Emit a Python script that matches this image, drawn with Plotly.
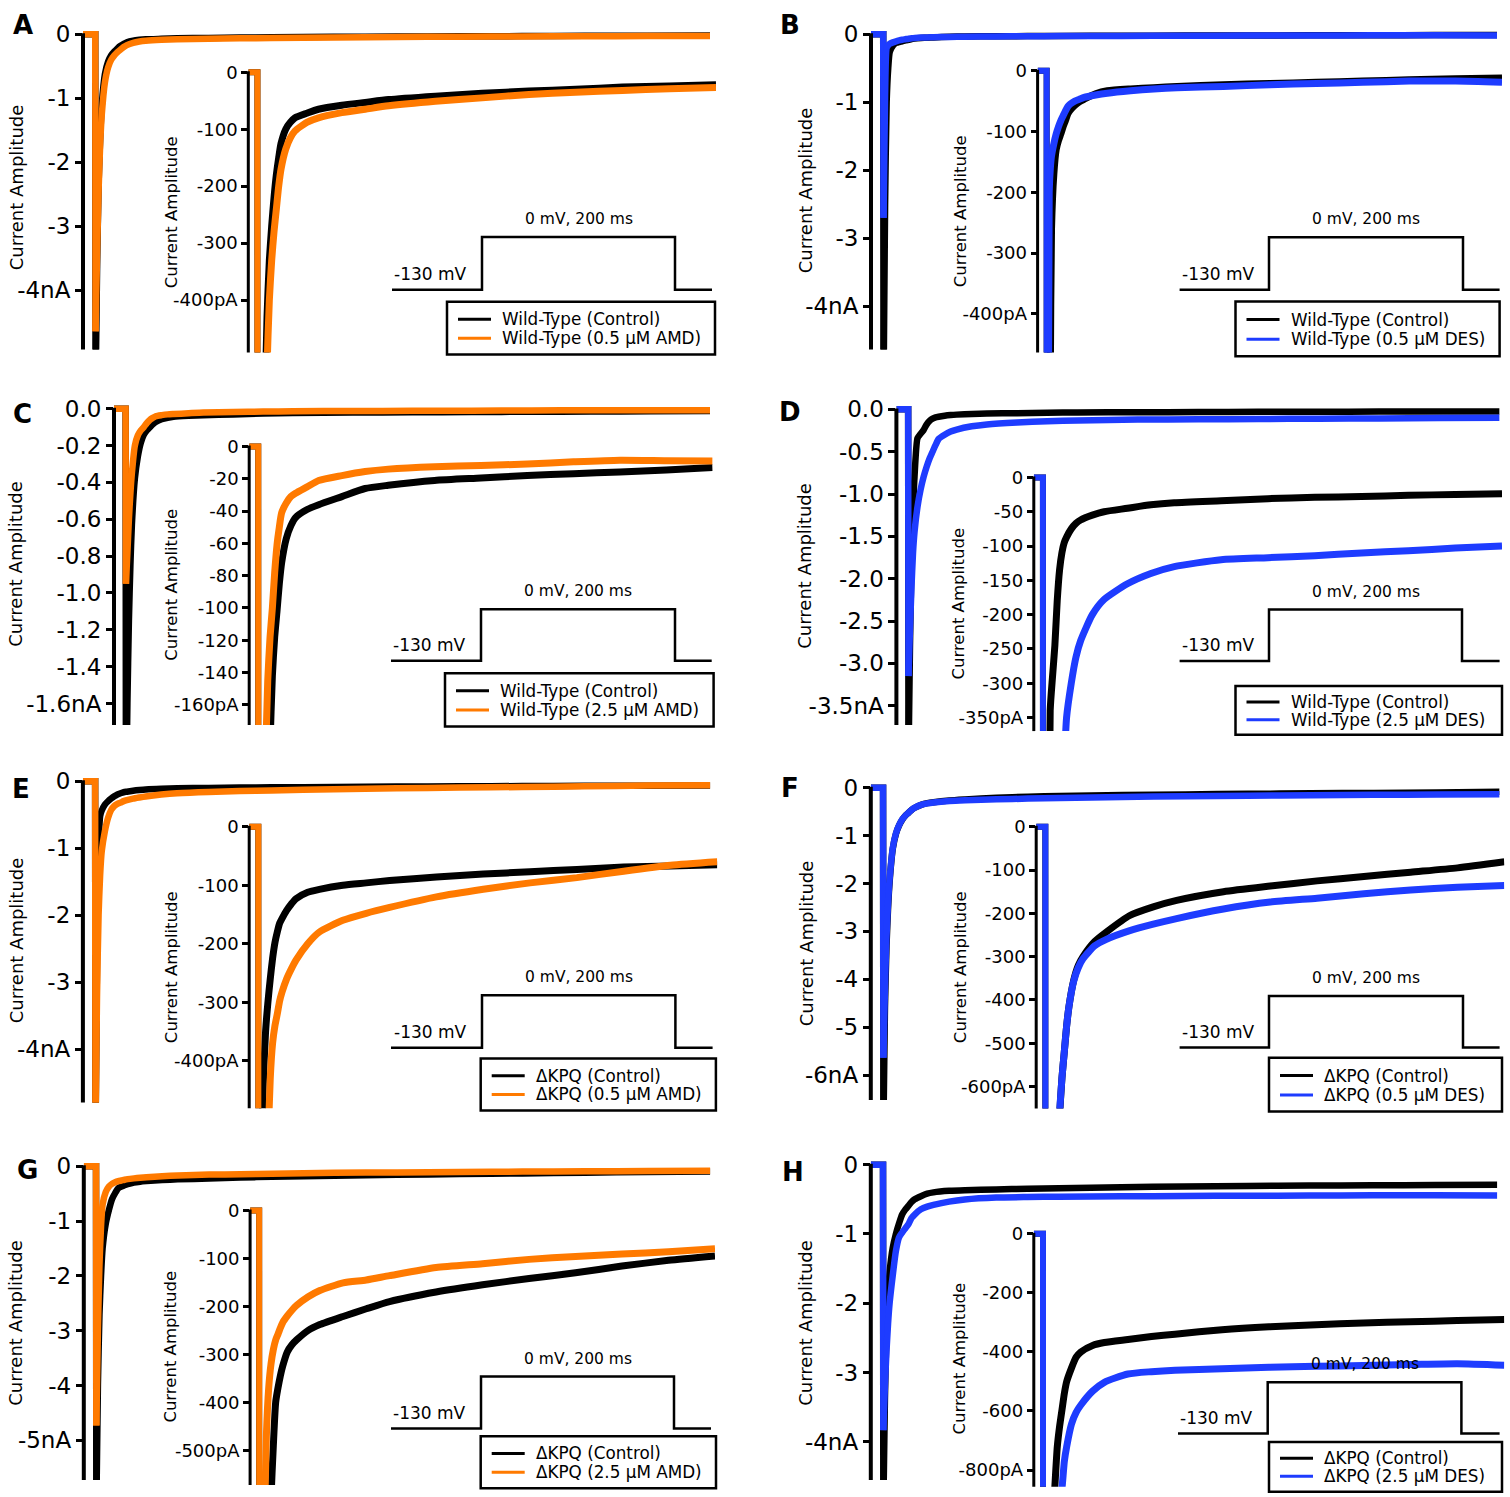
import plotly.graph_objects as go

W, H = 1510, 1497
FONT = "DejaVu Sans"
ORANGE = "#FF7A00"
BLUE = "#1E3CFF"

# ---------------- data (time in ms, current in nA) ----------------
T = [0, 3.9, 4.0, 4.5, 5, 5.5, 6, 7, 8, 9, 10, 11, 12, 13, 14, 16, 18, 20, 25, 30,
     40, 50, 60, 80, 100, 120, 140, 160, 180, 200]

A_ctrl = [0, 0, -5.6, -3.6, -2.3, -1.6, -1.1, -0.62, -0.43, -0.33, -0.27, -0.22, -0.18, -0.15, -0.125,
          -0.1, -0.088, -0.08, -0.072, -0.065, -0.058, -0.053, -0.048, -0.042, -0.037, -0.033, -0.03,
          -0.026, -0.024, -0.022]
A_drug = [0, 0, -4.64, -3.4, -2.4, -1.7, -1.25, -0.75, -0.52, -0.4, -0.33, -0.28, -0.24, -0.2, -0.17,
          -0.135, -0.115, -0.103, -0.088, -0.08, -0.071, -0.065, -0.059, -0.051, -0.045, -0.039, -0.035,
          -0.032, -0.029, -0.027]
B_ctrl = [0, 0, -5.3, -2.5, -1.0, -0.5, -0.26, -0.17, -0.13, -0.115, -0.104, -0.092, -0.082, -0.071, -0.065,
          -0.057, -0.051, -0.047, -0.038, -0.033, -0.03, -0.028, -0.026, -0.023, -0.021, -0.019, -0.017,
          -0.015, -0.013, -0.012]
B_drug = [0, 0, -2.7, -0.9, -0.2, -0.16, -0.14, -0.12, -0.104, -0.092, -0.082, -0.074, -0.066, -0.059, -0.055,
          -0.05, -0.047, -0.044, -0.04, -0.037, -0.033, -0.03, -0.028, -0.026, -0.023, -0.021, -0.019,
          -0.017, -0.017, -0.019]
C_ctrl = [0, 0, -2.2, -1.6, -1.15, -0.85, -0.63, -0.38, -0.26, -0.185, -0.142, -0.118, -0.102, -0.085, -0.072,
          -0.057, -0.049, -0.044, -0.039, -0.036, -0.031, -0.026, -0.024, -0.021, -0.0195, -0.018, -0.0168,
          -0.0158, -0.0145, -0.013]
C_drug = [0, 0, -0.95, -0.78, -0.6, -0.46, -0.35, -0.2, -0.145, -0.118, -0.1, -0.078, -0.061, -0.05, -0.041,
          -0.035, -0.031, -0.029, -0.025, -0.021, -0.018, -0.0155, -0.014, -0.0125, -0.0118, -0.0108, -0.0095,
          -0.0085, -0.0088, -0.009]
D_ctrl = [0, 0, -4.2, -2.8, -1.8, -1.2, -0.8, -0.34, -0.29, -0.245, -0.18, -0.135, -0.11, -0.095, -0.087,
          -0.075, -0.067, -0.062, -0.055, -0.05, -0.045, -0.04, -0.037, -0.034, -0.031, -0.029, -0.028,
          -0.026, -0.025, -0.024]
D_drug = [0, 0, -3.15, -2.6, -2.1, -1.7, -1.45, -1.15, -0.95, -0.8, -0.68, -0.58, -0.5, -0.42, -0.35,
          -0.3, -0.262, -0.238, -0.2, -0.178, -0.155, -0.14, -0.13, -0.12, -0.117, -0.114, -0.11,
          -0.107, -0.103, -0.1]
E_ctrl = [0, 0, -5.5, -2.6, -1.0, -0.52, -0.44, -0.35, -0.3, -0.26, -0.225, -0.198, -0.18, -0.165, -0.157,
          -0.143, -0.132, -0.123, -0.112, -0.107, -0.1, -0.096, -0.092, -0.086, -0.081, -0.077, -0.073,
          -0.069, -0.067, -0.065]
E_drug = [0, 0, -5.2, -3.2, -2.0, -1.4, -1.05, -0.75, -0.55, -0.43, -0.37, -0.34, -0.32, -0.298, -0.283,
          -0.26, -0.243, -0.228, -0.2, -0.18, -0.16, -0.148, -0.138, -0.12, -0.107, -0.096, -0.087,
          -0.076, -0.066, -0.06]
F_ctrl = [0, 0, -7.2, -4.6, -3.3, -2.5, -1.95, -1.27, -0.96, -0.785, -0.665, -0.58, -0.52, -0.46, -0.415,
          -0.355, -0.32, -0.3, -0.265, -0.243, -0.205, -0.185, -0.17, -0.15, -0.137, -0.125, -0.115,
          -0.105, -0.095, -0.081]
F_drug = [0, 0, -5.64, -4.2, -3.1, -2.4, -1.9, -1.25, -0.95, -0.78, -0.66, -0.58, -0.52, -0.46, -0.415,
          -0.357, -0.325, -0.305, -0.275, -0.26, -0.24, -0.225, -0.212, -0.19, -0.174, -0.165, -0.155,
          -0.146, -0.14, -0.136]
G_ctrl = [0, 0, -6.3, -4.0, -2.7, -2.0, -1.5, -1.05, -0.8, -0.6, -0.49, -0.4, -0.37, -0.345, -0.325,
          -0.295, -0.28, -0.27, -0.25, -0.238, -0.221, -0.205, -0.19, -0.17, -0.155, -0.142, -0.13,
          -0.116, -0.104, -0.095]
G_drug = [0, 0, -4.73, -3.0, -1.8, -1.1, -0.7, -0.47, -0.37, -0.32, -0.29, -0.27, -0.258, -0.245, -0.234,
          -0.22, -0.208, -0.198, -0.18, -0.167, -0.151, -0.145, -0.136, -0.119, -0.111, -0.102, -0.096,
          -0.091, -0.086, -0.08]
H_ctrl = [0, 0, -5.0, -3.4, -2.4, -1.9, -1.55, -1.2, -1.0, -0.85, -0.72, -0.65, -0.595, -0.54, -0.5,
          -0.455, -0.418, -0.4, -0.378, -0.368, -0.358, -0.348, -0.34, -0.325, -0.315, -0.308, -0.302,
          -0.298, -0.294, -0.29]
H_drug = [0, 0, -3.83, -3.2, -2.7, -2.3, -2.0, -1.6, -1.25, -1.05, -0.98, -0.92, -0.86, -0.77, -0.72,
          -0.645, -0.605, -0.58, -0.533, -0.503, -0.475, -0.467, -0.462, -0.457, -0.452, -0.449, -0.446,
          -0.443, -0.44, -0.445]

# tick values / labels
NA4_V = [0, -1, -2, -3, -4]
NA4_T = ["0", "-1", "-2", "-3", "-4nA"]
PA400_V = [0, -100, -200, -300, -400]
PA400_T = ["0", "-100", "-200", "-300", "-400pA"]
C_MAIN_V = [0, -0.2, -0.4, -0.6, -0.8, -1.0, -1.2, -1.4, -1.6]
C_MAIN_T = ["0.0", "-0.2", "-0.4", "-0.6", "-0.8", "-1.0", "-1.2", "-1.4", "-1.6nA"]
C_INS_V = [0, -20, -40, -60, -80, -100, -120, -140, -160]
C_INS_T = ["0", "-20", "-40", "-60", "-80", "-100", "-120", "-140", "-160pA"]
D_MAIN_V = [0, -0.5, -1.0, -1.5, -2.0, -2.5, -3.0, -3.5]
D_MAIN_T = ["0.0", "-0.5", "-1.0", "-1.5", "-2.0", "-2.5", "-3.0", "-3.5nA"]
D_INS_V = [0, -50, -100, -150, -200, -250, -300, -350]
D_INS_T = ["0", "-50", "-100", "-150", "-200", "-250", "-300", "-350pA"]
F_MAIN_V = [0, -1, -2, -3, -4, -5, -6]
F_MAIN_T = ["0", "-1", "-2", "-3", "-4", "-5", "-6nA"]
F_INS_V = [0, -100, -200, -300, -400, -500, -600]
F_INS_T = ["0", "-100", "-200", "-300", "-400", "-500", "-600pA"]
G_MAIN_V = [0, -1, -2, -3, -4, -5]
G_MAIN_T = ["0", "-1", "-2", "-3", "-4", "-5nA"]
G_INS_V = [0, -100, -200, -300, -400, -500]
G_INS_T = ["0", "-100", "-200", "-300", "-400", "-500pA"]
H_INS_V = [0, -200, -400, -600, -800]
H_INS_T = ["0", "-200", "-400", "-600", "-800pA"]

WT_CTRL = "Wild-Type (Control)"
KPQ_CTRL = "ΔKPQ (Control)"

# ---------------- layout geometry (pixels) ----------------
PANELS = [
    dict(letter="A", lpos=(23, 19), ctrl=A_ctrl, drug=A_drug, color=ORANGE,
         names=(WT_CTRL, "Wild-Type (0.5 μM AMD)"),
         main=dict(ax=83, xend=710, y0=28.3, ppu=64.3, ybot=345, tv=NA4_V, tt=NA4_T, tpos=(16, 182)),
         ins=dict(ax=248.3, xend=716, y0=66.5, ppu=0.572, ybot=348, tv=PA400_V, tt=PA400_T, tpos=(171, 207)),
         proto=(392, 482, 675, 712, 285, 232), box=(447, 297, 715, 350)),
    dict(letter="B", lpos=(790, 19), ctrl=B_ctrl, drug=B_drug, color=BLUE,
         names=(WT_CTRL, "Wild-Type (0.5 μM DES)"),
         main=dict(ax=871, xend=1497, y0=28.3, ppu=68.3, ybot=345, tv=NA4_V, tt=NA4_T, tpos=(805, 185)),
         ins=dict(ax=1037.6, xend=1502, y0=65, ppu=0.61, ybot=348, tv=PA400_V, tt=PA400_T, tpos=(960, 206)),
         proto=(1179.6, 1269, 1463, 1499.6, 285, 232.3), box=(1235.5, 296.7, 1499.6, 351.7)),
    dict(letter="C", lpos=(22, 410), ctrl=C_ctrl, drug=C_drug, color=ORANGE,
         names=(WT_CTRL, "Wild-Type (2.5 μM AMD)"),
         main=dict(ax=114, xend=710, y0=404.3, ppu=185, ybot=722, tv=C_MAIN_V, tt=C_MAIN_T, tpos=(16, 560)),
         ins=dict(ax=249.2, xend=712.6, y0=442.3, ppu=1.621, ybot=722, tv=C_INS_V, tt=C_INS_T, tpos=(172, 581)),
         proto=(391, 481, 675, 711.7, 657.3, 605.7), box=(445, 670, 713.6, 723.3)),
    dict(letter="D", lpos=(790, 408), ctrl=D_ctrl, drug=D_drug, color=BLUE,
         names=(WT_CTRL, "Wild-Type (2.5 μM DES)"),
         main=dict(ax=896.4, xend=1499.6, y0=405, ppu=85, ybot=722, tv=D_MAIN_V, tt=D_MAIN_T, tpos=(805, 562)),
         ins=dict(ax=1033.8, xend=1502, y0=473.3, ppu=0.689, ybot=728, tv=D_INS_V, tt=D_INS_T, tpos=(959, 600)),
         proto=(1179.6, 1269, 1462, 1499.6, 657.7, 606), box=(1235.5, 682.7, 1502, 731.7)),
    dict(letter="E", lpos=(21, 786), ctrl=E_ctrl, drug=E_drug, color=ORANGE,
         names=(KPQ_CTRL, "ΔKPQ (0.5 μM AMD)"),
         main=dict(ax=82.9, xend=710.3, y0=778.3, ppu=67.25, ybot=1101, tv=NA4_V, tt=NA4_T, tpos=(16, 938)),
         ins=dict(ax=249.2, xend=717.3, y0=824, ppu=0.5875, ybot=1106.7, tv=PA400_V, tt=PA400_T, tpos=(171, 965)),
         proto=(391, 482, 675.4, 712.6, 1046, 993.3), box=(480.7, 1056.7, 715.9, 1109)),
    dict(letter="F", lpos=(790, 785), ctrl=F_ctrl, drug=F_drug, color=BLUE,
         names=(KPQ_CTRL, "ΔKPQ (0.5 μM DES)"),
         main=dict(ax=870.8, xend=1499.6, y0=785, ppu=48.05, ybot=1098.3, tv=F_MAIN_V, tt=F_MAIN_T, tpos=(806, 941)),
         ins=dict(ax=1036.2, xend=1504.3, y0=824, ppu=0.435, ybot=1107, tv=F_INS_V, tt=F_INS_T, tpos=(960, 965)),
         proto=(1179.6, 1269, 1463, 1499.6, 1045.7, 994), box=(1269, 1056, 1502, 1110)),
    dict(letter="G", lpos=(27, 1169), ctrl=G_ctrl, drug=G_drug, color=ORANGE,
         names=(KPQ_CTRL, "ΔKPQ (2.5 μM AMD)"),
         main=dict(ax=83.8, xend=710.3, y0=1165, ppu=55, ybot=1480, tv=G_MAIN_V, tt=G_MAIN_T, tpos=(16, 1322)),
         ins=dict(ax=250.1, xend=715, y0=1209.3, ppu=0.4815, ybot=1485, tv=G_INS_V, tt=G_INS_T, tpos=(171, 1346)),
         proto=(391, 481, 674, 711, 1428.3, 1376), box=(480.7, 1436, 716, 1488.3)),
    dict(letter="H", lpos=(793, 1171), ctrl=H_ctrl, drug=H_drug, color=BLUE,
         names=(KPQ_CTRL, "ΔKPQ (2.5 μM DES)"),
         main=dict(ax=870.8, xend=1497.3, y0=1163.3, ppu=69.6, ybot=1480, tv=NA4_V, tt=NA4_T, tpos=(806, 1322)),
         ins=dict(ax=1033.8, xend=1504.3, y0=1232.7, ppu=0.2965, ybot=1486.7, tv=H_INS_V, tt=H_INS_T, tpos=(960, 1358)),
         proto=(1178, 1267.7, 1461.4, 1499.6, 1433.3, 1381.7), box=(1269, 1441.7, 1502, 1491.7)),
]


def px(x):
    return x / W


def py(y):
    return 1 - y / H


fig = go.Figure()
layout = dict(width=W, height=H, margin=dict(l=0, r=0, t=0, b=0),
              paper_bgcolor="white", plot_bgcolor="rgba(0,0,0,0)", showlegend=False)
shapes = []
annots = []

ax_idx = 0
for p in PANELS:
    for kind in ("main", "ins"):
        g = p[kind]
        ax_idx += 1
        sfx = "" if ax_idx == 1 else str(ax_idx)
        main = kind == "main"
        scale = 1.0 if main else 1000.0
        pad = 7
        lw_step = 6.5 if main else 6
        lw_rec = 6.5 if main else 7
        for vals, col in ((p["ctrl"], "black"), (p["drug"], p["color"])):
            ys = [v * scale for v in vals]
            # baseline and step onset (straight segments)
            fig.add_trace(go.Scatter(
                x=T[:3], y=ys[:3], mode="lines", line=dict(color=col, width=lw_step),
                xaxis="x" + sfx, yaxis="y" + sfx, hoverinfo="skip"))
            # recovery (smoothed)
            fig.add_trace(go.Scatter(
                x=T[2:], y=ys[2:], mode="lines",
                line=dict(color=col, width=lw_rec, shape="spline", smoothing=0.6),
                xaxis="x" + sfx, yaxis="y" + sfx, hoverinfo="skip"))
        yr = [-(g["ybot"] - g["y0"]) / g["ppu"], pad / g["ppu"]]
        layout["xaxis" + sfx] = dict(domain=[px(g["ax"]), px(g["xend"])], range=[0, 200],
                                     visible=False, anchor="y" + sfx, fixedrange=True)
        layout["yaxis" + sfx] = dict(
            domain=[py(g["ybot"]), py(g["y0"] - pad)], range=yr, anchor="x" + sfx,
            showgrid=False, zeroline=False, showline=False,
            ticks="outside", ticklen=7 if main else 6, tickwidth=3 if main else 2.5,
            tickcolor="black", tickvals=g["tv"], ticktext=g["tt"],
            tickfont=dict(family=FONT, size=23 if main else 18, color="black"),
            fixedrange=True)
        # axis line from 0 down to the bottom
        shapes.append(dict(type="line", xref="paper", yref="paper",
                           x0=px(g["ax"]), x1=px(g["ax"]), y0=py(g["y0"] - 1), y1=py(g["ybot"]),
                           line=dict(color="black", width=4 if main else 3)))
        annots.append(dict(xref="paper", yref="paper", x=px(g["tpos"][0]), y=py(g["tpos"][1]),
                           text="Current Amplitude", showarrow=False, textangle=-90,
                           xanchor="center", yanchor="middle",
                           font=dict(family=FONT, size=18 if main else 16.5, color="black")))

    # panel letter
    annots.append(dict(xref="paper", yref="paper", x=px(p["lpos"][0]), y=py(p["lpos"][1]),
                       text="<b>%s</b>" % p["letter"], showarrow=False, xanchor="center",
                       yanchor="middle", font=dict(family=FONT, size=26, color="black")))

    # voltage protocol
    x1, x2, x3, x4, ylo, yhi = p["proto"]
    path = "M %f,%f L %f,%f L %f,%f L %f,%f L %f,%f L %f,%f" % (
        px(x1), py(ylo), px(x2), py(ylo), px(x2), py(yhi), px(x3), py(yhi),
        px(x3), py(ylo), px(x4), py(ylo))
    shapes.append(dict(type="path", xref="paper", yref="paper", path=path,
                       line=dict(color="black", width=2.5)))
    annots.append(dict(xref="paper", yref="paper", x=px(x1 + 0.43 * (x2 - x1)), y=py(ylo - 16),
                       text="-130 mV", showarrow=False, xanchor="center", yanchor="middle",
                       font=dict(family=FONT, size=17, color="black")))
    annots.append(dict(xref="paper", yref="paper", x=px((x2 + x3) / 2), y=py(yhi - 18),
                       text="0 mV, 200 ms", showarrow=False, xanchor="center", yanchor="middle",
                       font=dict(family=FONT, size=15.5, color="black")))

    # legend box
    bx0, by0, bx1, by1 = p["box"]
    shapes.append(dict(type="rect", xref="paper", yref="paper",
                       x0=px(bx0), x1=px(bx1), y0=py(by0), y1=py(by1),
                       line=dict(color="black", width=2.5), fillcolor="white"))
    bh = by1 - by0
    for frac, col, name in ((0.33, "black", p["names"][0]), (0.69, p["color"], p["names"][1])):
        yy = by0 + frac * bh
        shapes.append(dict(type="line", xref="paper", yref="paper",
                           x0=px(bx0 + 11), x1=px(bx0 + 44), y0=py(yy), y1=py(yy),
                           line=dict(color=col, width=3)))
        annots.append(dict(xref="paper", yref="paper", x=px(bx0 + 53), y=py(yy),
                           text=name, showarrow=False, xanchor="left", yanchor="middle",
                           font=dict(family=FONT, size=16.8, color="black")))

layout["shapes"] = shapes
layout["annotations"] = annots
fig.update_layout(**layout)
fig.write_html("out.html", config={"displayModeBar": False},
               post_script="document.body.style.margin='0px';document.body.style.overflow='hidden';")
